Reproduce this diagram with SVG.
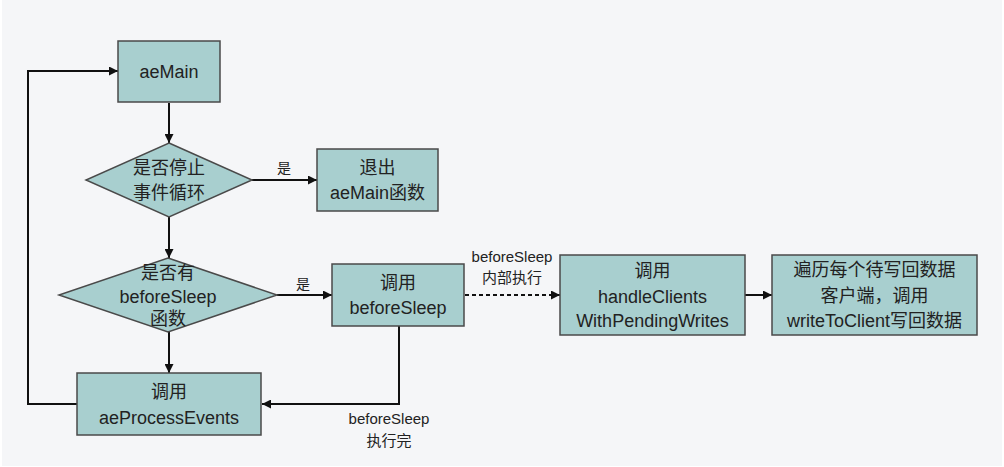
<svg xmlns="http://www.w3.org/2000/svg" width="1004" height="467" viewBox="0 0 1004 467">
<defs>
<style>
.bg{fill:#f5f6f8}
.box{fill:#a8cfcf;stroke:#4a4a4a;stroke-width:1.5}
.t{font-family:"Liberation Sans","Noto Sans CJK SC",sans-serif;font-size:18px;fill:#222;text-anchor:middle;dominant-baseline:central}
.lbl{font-family:"Liberation Sans","Noto Sans CJK SC",sans-serif;font-size:15px;fill:#222;text-anchor:middle;dominant-baseline:central}
.yes{font-family:"Noto Sans CJK SC",sans-serif;font-size:14px;fill:#222;text-anchor:middle;dominant-baseline:central}
.ln{fill:none;stroke:#111;stroke-width:2}
.dash{stroke-dasharray:4 3}
</style>
<marker id="ah" viewBox="0 0 10 10" refX="10" refY="5" markerWidth="10" markerHeight="9" markerUnits="userSpaceOnUse" orient="auto">
<path d="M0,0 L10,5 L0,10 z" fill="#111"/>
</marker>
</defs>
<rect class="bg" x="2" y="0" width="1000" height="466"/>

<g id="connectors">
<path class="ln" d="M169 103 V143" marker-end="url(#ah)"/>
<path class="ln" d="M252 180 H317" marker-end="url(#ah)"/>
<path class="ln" d="M169 217 V258" marker-end="url(#ah)"/>
<path class="ln" d="M277 295 H332" marker-end="url(#ah)"/>
<path class="ln" d="M169 332 V373" marker-end="url(#ah)"/>
<path class="ln" d="M399 326 V404 H262" marker-end="url(#ah)"/>
<path class="ln" d="M77 404 H28 V71 H118" marker-end="url(#ah)"/>
<path class="ln dash" d="M465 295 H560" marker-end="url(#ah)"/>
<path class="ln" d="M745 295 H772" marker-end="url(#ah)"/>
<text class="yes" x="284" y="167">是</text>
<text class="yes" x="303" y="283">是</text>
<text class="lbl" x="512" y="256">beforeSleep</text>
<text class="lbl" x="512" y="277">内部执行</text>
<text class="lbl" x="389" y="418">beforeSleep</text>
<text class="lbl" x="389" y="440">执行完</text>
</g>

<g id="aeMain">
<rect class="box" x="118" y="41" width="102" height="61"/>
<text class="t" x="169" y="72">aeMain</text>
</g>
<g id="stopLoop">
<polygon class="box" points="169,143 252,180 169,217 86,180"/>
<text class="t" x="169" y="168">是否停止</text>
<text class="t" x="169" y="193">事件循环</text>
</g>
<g id="exitMain">
<rect class="box" x="317" y="149" width="121" height="62"/>
<text class="t" x="377.5" y="168">退出</text>
<text class="t" x="377.5" y="193">aeMain函数</text>
</g>
<g id="hasBeforeSleep">
<polygon class="box" points="168,258 277,295 168,332 59,295"/>
<text class="t" x="168" y="273">是否有</text>
<text class="t" x="168" y="297">beforeSleep</text>
<text class="t" x="168" y="319">函数</text>
</g>
<g id="callBeforeSleep">
<rect class="box" x="332" y="264" width="132" height="62"/>
<text class="t" x="398" y="283">调用</text>
<text class="t" x="398" y="308">beforeSleep</text>
</g>
<g id="callProcessEvents">
<rect class="box" x="77" y="373" width="184" height="62"/>
<text class="t" x="169" y="392">调用</text>
<text class="t" x="169" y="418">aeProcessEvents</text>
</g>
<g id="handleClients">
<rect class="box" x="560" y="255" width="185" height="80"/>
<text class="t" x="652.5" y="271">调用</text>
<text class="t" x="652.5" y="297">handleClients</text>
<text class="t" x="652.5" y="321">WithPendingWrites</text>
</g>
<g id="writeToClient">
<rect class="box" x="772" y="255" width="205" height="80"/>
<text class="t" x="874.5" y="270">遍历每个待写回数据</text>
<text class="t" x="874.5" y="296">客户端，调用</text>
<text class="t" x="874.5" y="321">writeToClient写回数据</text>
</g>
</svg>
